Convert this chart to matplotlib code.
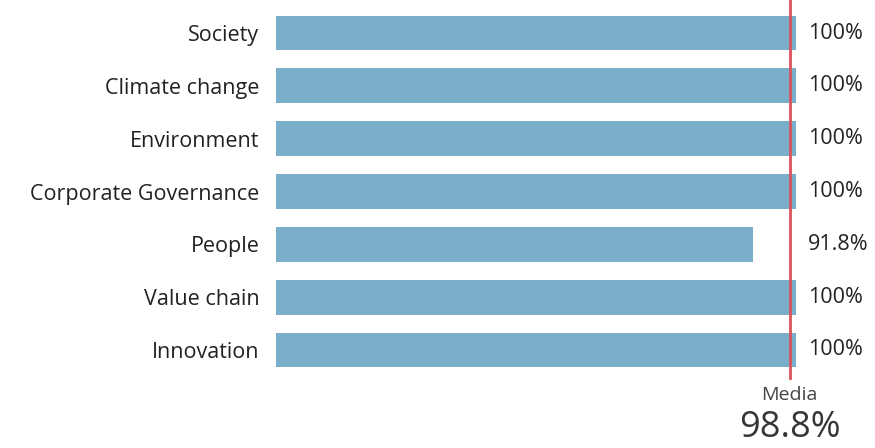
import matplotlib
matplotlib.use("Agg")
import matplotlib.pyplot as plt

categories = ["Society", "Climate change", "Environment", "Corporate Governance",
              "People", "Value chain", "Innovation"]
values = [100, 100, 100, 100, 91.8, 100, 100]
value_labels = ["100%", "100%", "100%", "100%", "91.8%", "100%", "100%"]
mean_value = 98.8
mean_label = "98.8%"

plt.rcParams['font.family'] = ['Open Sans', 'DejaVu Sans']

fig = plt.figure(figsize=(8.75, 4.48), dpi=100)
ax = fig.add_axes([0.3154, 0.1598, 0.5943, 0.8254])

pos = list(range(len(categories)))
ax.barh(pos, values, height=0.66, color="#7aaecb")
ax.set_xlim(0, 100)
ax.set_ylim(len(categories) - 0.5, -0.5)

ax.set_yticks(pos)
ax.set_yticklabels(categories, fontsize=15.5, color="#222222")
ax.tick_params(axis="y", length=0, pad=12)
ax.set_xticks([])
for s in ax.spines.values():
    s.set_visible(False)

for p, lab in zip(pos, value_labels):
    ax.text(102.3, p, lab, va="center", ha="left", fontsize=15.5, color="#222222")

# mean line
ax.axvline(mean_value, ymin=-0.005, ymax=1.02, color="#d9545a", lw=2, clip_on=False)
ax.text(mean_value, 6.94, "Media", ha="center", va="baseline", fontsize=14, color="#444444")
ax.text(mean_value, 7.64, mean_label, ha="center", va="baseline", fontsize=26, color="#333833")

fig.savefig("out.png", dpi=100)
